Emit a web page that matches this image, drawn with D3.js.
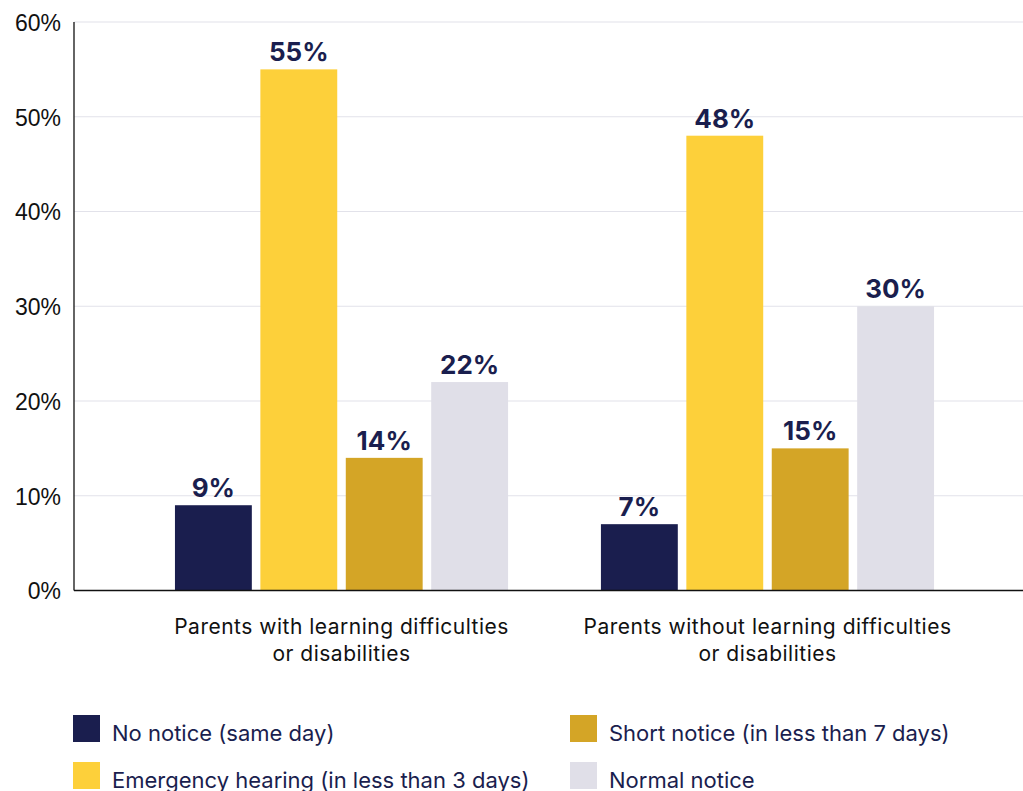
<!DOCTYPE html>
<html>
<head>
<meta charset="utf-8">
<script src="https://cdn.jsdelivr.net/npm/d3@7"></script>
<style>
  body { margin: 0; background: #fff; }
  svg { display: block; font-family: Inter, "Liberation Sans", sans-serif; }
</style>
</head>
<body>
<svg></svg>
<script>
// data
const groups = ["Parents with learning difficulties|or disabilities", "Parents without learning difficulties|or disabilities"];
const series = ["No notice (same day)", "Emergency hearing (in less than 3 days)", "Short notice (in less than 7 days)", "Normal notice"];
const withLD = [9, 55, 14, 22];
const withoutLD = [7, 48, 15, 30];
const yTicks = [0, 10, 20, 30, 40, 50, 60];
const colors = ["#1a1e4e", "#fdd03a", "#d4a526", "#e0dfe8"];

const width = 1023, height = 791;
const margin = { left: 74, top: 22, bottom: 201 };
const baseY = height - margin.bottom + 0.5;

const svg = d3.select("svg").attr("width", width).attr("height", height);

const y_scale = d3.scaleLinear().domain([0, 60]).range([baseY, margin.top]);

const x0 = d3.scaleBand().domain(groups).range([margin.left, 1035])
  .paddingInner(0.218).paddingOuter(0.237);
const x1 = d3.scaleBand().domain(series).range([0, x0.bandwidth()])
  .paddingInner(0.1).paddingOuter(0);

// gridlines
svg.append("g")
  .selectAll("line")
  .data(yTicks.filter(d => d > 0))
  .join("line")
  .attr("x1", margin.left).attr("x2", width)
  .attr("y1", d => y_scale(d)).attr("y2", d => y_scale(d))
  .attr("stroke", "#e2e2ea").attr("stroke-width", 1.2);

// y axis labels
const y_axis = d3.axisLeft(y_scale).tickValues(yTicks).tickSize(0).tickPadding(13)
  .tickFormat(d => d + "%");
const gy = svg.append("g").attr("transform", `translate(${margin.left},0)`).call(y_axis);
gy.select(".domain").remove();
gy.selectAll("text").style("font-size", "23px").attr("fill", "#111").attr("dy", "0.36em");

const rows = groups.map((g, i) => ({ g, vals: i === 0 ? withLD : withoutLD }));

// bars
const bars = svg.append("g")
  .selectAll("g")
  .data(rows)
  .join("g")
  .attr("transform", d => `translate(${x0(d.g)},0)`);

bars.selectAll("rect")
  .data(d => d.vals.map((v, i) => ({ s: series[i], v, c: colors[i] })))
  .join("rect")
  .attr("x", d => x1(d.s))
  .attr("width", x1.bandwidth())
  .attr("y", d => y_scale(d.v))
  .attr("height", d => baseY - y_scale(d.v))
  .attr("fill", d => d.c);

bars.selectAll("text")
  .data(d => d.vals.map((v, i) => ({ s: series[i], v })))
  .join("text")
  .attr("x", d => x1(d.s) + x1.bandwidth() / 2)
  .attr("y", d => y_scale(d.v) - 8)
  .attr("text-anchor", "middle")
  .style("font-size", "26px")
  .style("font-weight", "700")
  .attr("fill", "#1a1e4e")
  .text(d => d.v + "%");

// axis lines
svg.append("line")
  .attr("x1", margin.left).attr("x2", margin.left)
  .attr("y1", margin.top).attr("y2", baseY)
  .attr("stroke", "#111").attr("stroke-width", 1.3);
svg.append("line")
  .attr("x1", margin.left).attr("x2", width)
  .attr("y1", baseY).attr("y2", baseY)
  .attr("stroke", "#111").attr("stroke-width", 1.3);

// category labels
svg.append("g")
  .selectAll("text")
  .data(groups)
  .join("text")
  .attr("x", d => x0(d) + x0.bandwidth() / 2)
  .attr("y", 634)
  .attr("text-anchor", "middle")
  .style("font-size", "21px")
  .style("letter-spacing", "0.5px")
  .attr("fill", "#111")
  .each(function (d) {
    d.split("|").forEach((t, i) => {
      d3.select(this).append("tspan")
        .attr("x", x0(d) + x0.bandwidth() / 2)
        .attr("dy", i === 0 ? 0 : 27)
        .text(t);
    });
  });

// legend
const legendPos = [[73, 715], [73, 762], [570, 715], [570, 762]];
const legend = svg.append("g")
  .selectAll("g")
  .data(series)
  .join("g")
  .attr("transform", (d, i) => `translate(${legendPos[i][0]},${legendPos[i][1]})`);
legend.append("rect").attr("width", 27).attr("height", 27).attr("fill", (d, i) => colors[i]);
legend.append("text")
  .attr("x", 39).attr("y", 26)
  .style("font-size", "22px")
  .attr("fill", "#1a1e4e")
  .text(d => d);
</script>
</body>
</html>
